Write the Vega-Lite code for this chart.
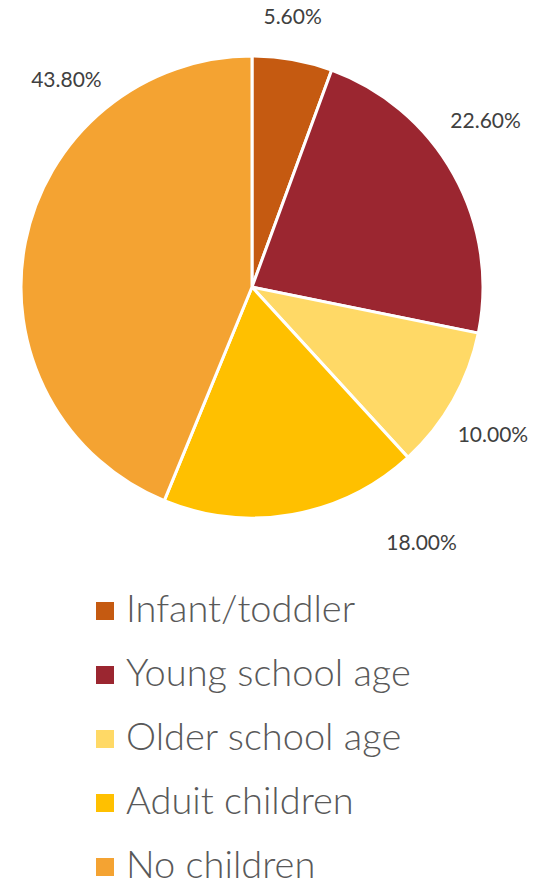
{
  "$schema": "https://vega.github.io/schema/vega-lite/v6.json",
  "width": 504,
  "height": 574,
  "padding": {"left": 0, "top": 0, "right": 29, "bottom": 316},
  "autosize": {"type": "none"},
  "background": "white",
  "data": {"values": [
    {"category": "Infant/toddler", "value": 5.6, "label": "5.60%", "order": 1},
    {"category": "Young school age", "value": 22.6, "label": "22.60%", "order": 2},
    {"category": "Older school age", "value": 10.0, "label": "10.00%", "order": 3},
    {"category": "Aduit children", "value": 18.0, "label": "18.00%", "order": 4},
    {"category": "No children", "value": 43.8, "label": "43.80%", "order": 5}
  ]},
  "encoding": {
    "theta": {"field": "value", "type": "quantitative", "stack": true},
    "order": {"field": "order", "type": "quantitative"}
  },
  "layer": [
    {
      "mark": {"type": "arc", "outerRadius": 231, "stroke": "white", "strokeWidth": 3},
      "encoding": {
        "color": {
          "field": "category", "type": "nominal",
          "scale": {
            "domain": ["Infant/toddler", "Young school age", "Older school age", "Aduit children", "No children"],
            "range": ["#C55A11", "#9B2630", "#FFD966", "#FFC000", "#F4A332"]
          },
          "legend": {
            "orient": "none", "legendX": 86, "legendY": 592, "title": null,
            "symbolType": "square", "symbolSize": 324, "symbolStrokeWidth": 0,
            "labelFontSize": 38, "labelFont": "Lato", "labelFontWeight": 300, "labelColor": "#595959",
            "rowPadding": 26, "labelOffset": 2, "padding": 0, "labelLimit": 450
          }
        }
      }
    },
    {
      "mark": {"type": "text", "radius": 232, "dx": 0, "dy": -41, "fontSize": 21, "font": "Lato", "color": "#404040"},
      "encoding": {"text": {"condition": {"test": "datum.order === 1", "field": "label"}, "value": ""}}
    },
    {
      "mark": {"type": "text", "radius": 232, "dx": 31, "dy": -52, "fontSize": 21, "font": "Lato", "color": "#404040"},
      "encoding": {"text": {"condition": {"test": "datum.order === 2", "field": "label"}, "value": ""}}
    },
    {
      "mark": {"type": "text", "radius": 232, "dx": 39, "dy": 35, "fontSize": 21, "font": "Lato", "color": "#404040"},
      "encoding": {"text": {"condition": {"test": "datum.order === 3", "field": "label"}, "value": ""}}
    },
    {
      "mark": {"type": "text", "radius": 232, "dx": 129, "dy": 29, "fontSize": 21, "font": "Lato", "color": "#404040"},
      "encoding": {"text": {"condition": {"test": "datum.order === 4", "field": "label"}, "value": ""}}
    },
    {
      "mark": {"type": "text", "radius": 232, "dx": 42, "dy": -161, "fontSize": 21, "font": "Lato", "color": "#404040"},
      "encoding": {"text": {"condition": {"test": "datum.order === 5", "field": "label"}, "value": ""}}
    }
  ]
}
